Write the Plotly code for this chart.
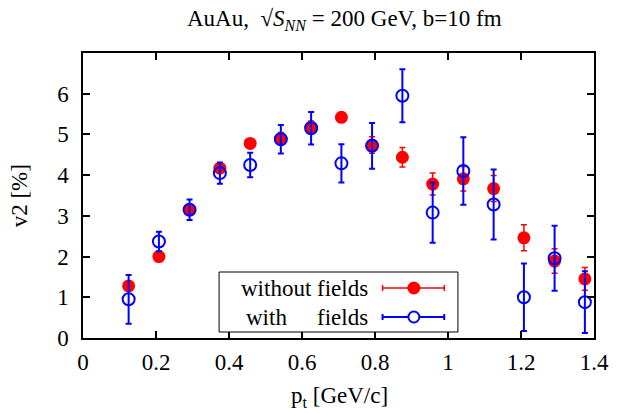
import plotly.graph_objects as go

# ---- data ----
pt = [0.125, 0.208, 0.292, 0.375, 0.458, 0.542, 0.625, 0.708,
      0.792, 0.875, 0.958, 1.042, 1.125, 1.208, 1.292, 1.375]
v2_without = [1.28, 2.00, 3.15, 4.17, 4.78, 4.90, 5.18, 5.42,
              4.74, 4.44, 3.78, 3.91, 3.67, 2.46, 1.89, 1.45]
err_without = [0.10, 0.05, 0.08, 0.10, 0.10, 0.15, 0.15, 0.12,
               0.20, 0.24, 0.27, 0.30, 0.32, 0.32, 0.30, 0.28]
v2_with = [0.95, 2.37, 3.15, 4.05, 4.25, 4.88, 5.15, 4.29,
           4.72, 5.95, 3.08, 4.10, 3.28, 1.00, 1.96, 0.88]
err_with = [0.60, 0.24, 0.25, 0.26, 0.30, 0.35, 0.40, 0.47,
            0.56, 0.65, 0.74, 0.83, 0.86, 0.83, 0.80, 0.76]
x_ticks = [0, 0.2, 0.4, 0.6, 0.8, 1.0, 1.2, 1.4]
x_tick_text = ["0", "0.2", "0.4", "0.6", "0.8", "1", "1.2", "1.4"]
y_ticks = [0, 1, 2, 3, 4, 5, 6]
labels = ["without fields", "with", "fields"]

FONT = "Liberation Serif"
FS = 23
RED = "#ff0000"
BLUE = "#0000ff"

fig = go.Figure()
fig.add_trace(go.Scatter(
    x=pt, y=v2_without, mode="markers", name="without fields",
    marker=dict(symbol="circle", size=13, color=RED),
    error_y=dict(type="data", array=err_without, color=RED, thickness=1.5, width=3),
))
fig.add_trace(go.Scatter(
    x=pt, y=v2_with, mode="markers", name="with fields",
    marker=dict(symbol="circle-open", size=12, color=BLUE, line=dict(width=2, color=BLUE)),
    error_y=dict(type="data", array=err_with, color=BLUE, thickness=2, width=3),
))

# page pixels (body margin removed via post_script)
W, H = 621, 413
L, T = 83, 53
R = W - 605
B = H - 338
pw, ph = W - L - R, H - T - B

def px(xp):
    return (xp - L) / pw

def py(yp):
    return (H - B - yp) / ph

shapes = []
annotations = []
# legend box
shapes.append(dict(type="rect", xref="paper", yref="paper",
                   x0=px(222), x1=px(466), y0=py(332), y1=py(272),
                   line=dict(color="black", width=1), fillcolor="white", layer="above"))
rows = [(288, RED, True), (317, BLUE, False)]
for ry, col, filled in rows:
    lw = 1.5 if filled else 2
    shapes.append(dict(type="line", xref="paper", yref="paper",
                       x0=px(389), x1=px(452), y0=py(ry), y1=py(ry),
                       line=dict(color=col, width=lw), layer="above"))
    for cx in (389, 452):
        shapes.append(dict(type="line", xref="paper", yref="paper",
                           x0=px(cx), x1=px(cx), y0=py(ry - 3), y1=py(ry + 3),
                           line=dict(color=col, width=lw), layer="above"))
    r = 6.5 if filled else 5.5
    shapes.append(dict(type="circle", xref="paper", yref="paper",
                       xsizemode="pixel", ysizemode="pixel",
                       xanchor=px(421), yanchor=py(ry),
                       x0=-r, x1=r, y0=-r, y1=r,
                       fillcolor=col if filled else "white",
                       line=dict(color=col, width=0 if filled else 2), layer="above"))

tf = dict(family=FONT, size=FS, color="black")
annotations.append(dict(text=labels[0], xref="paper", yref="paper",
                        x=px(376), y=py(288), xanchor="right", yanchor="middle",
                        showarrow=False, font=tf))
annotations.append(dict(text=labels[1], xref="paper", yref="paper",
                        x=px(247), y=py(317), xanchor="left", yanchor="middle",
                        showarrow=False, font=tf))
annotations.append(dict(text=labels[2], xref="paper", yref="paper",
                        x=px(376), y=py(317), xanchor="right", yanchor="middle",
                        showarrow=False, font=tf))
# title
annotations.append(dict(text="AuAu,  √<i>S</i><sub><i>NN</i></sub> = 200 GeV, b=10 fm",
                        xref="paper", yref="paper", x=px(350), y=py(20),
                        xanchor="center", yanchor="middle", showarrow=False, font=tf))
# axis titles
annotations.append(dict(text="p<sub>t</sub> [GeV/c]", xref="paper", yref="paper",
                        x=px(345), y=py(397), xanchor="center", yanchor="middle",
                        showarrow=False, font=tf))
annotations.append(dict(text="v2 [%]", xref="paper", yref="paper",
                        x=px(18), y=py(196), xanchor="center", yanchor="middle",
                        textangle=-90, showarrow=False, font=tf))

axis_common = dict(showgrid=False, zeroline=False, showline=True, linecolor="black",
                   linewidth=1.5, mirror="ticks", ticks="inside", ticklen=7,
                   tickwidth=1.5, tickcolor="black", tickfont=tf)
fig.update_layout(
    width=W, height=H,
    margin=dict(l=L, r=R, t=T, b=B),
    paper_bgcolor="white", plot_bgcolor="white",
    showlegend=False,
    xaxis=dict(range=[0, 1.4], tickvals=x_ticks, ticktext=x_tick_text,
               ticklabelstandoff=3, **axis_common),
    yaxis=dict(range=[0, 7], tickvals=y_ticks, ticklabelstandoff=8, **axis_common),
    shapes=shapes, annotations=annotations,
)
fig.write_html("out.html", config={"displayModeBar": False},
               post_script="document.body.style.margin='0';document.body.style.overflow='hidden';")
